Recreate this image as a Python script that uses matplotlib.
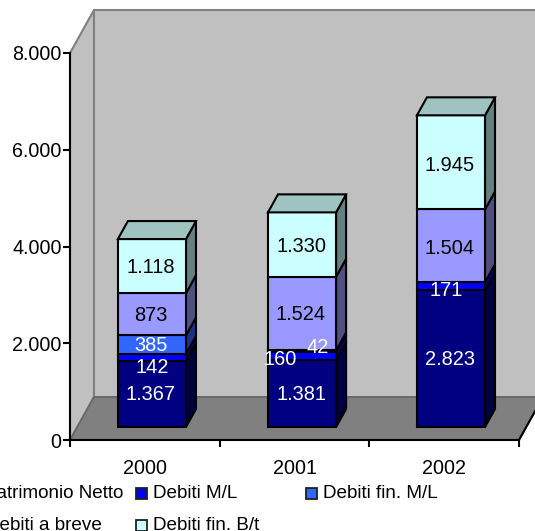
"""Stacked 3D-look column chart drawn on a plain matplotlib axes."""

import matplotlib
matplotlib.use("Agg")
import matplotlib.pyplot as plt
from matplotlib.patches import Rectangle

plt.rcParams["font.family"] = ["Liberation Sans", "DejaVu Sans"]

years = ["2000", "2001", "2002"]
patrimonio_netto = [1367, 1381, 2823]
debiti_ml = [142, 160, 171]
debiti_fin_ml = [385, 42, 0]
debiti_breve = [873, 1524, 1504]
debiti_fin_bt = [1118, 1330, 1945]

series_names = ["Patrimonio Netto", "Debiti M/L", "Debiti fin. M/L", "Debiti a breve", "Debiti fin. B/t"]
series_values = [patrimonio_netto, debiti_ml, debiti_fin_ml, debiti_breve, debiti_fin_bt]

front_colors = ["#000080", "#0000FF", "#3366FF", "#9999FF", "#CCFFFF"]
side_colors = ["#000040", "#000080", "#1A3380", "#505080", "#668080"]
top_colors = ["#000060", "#0000C0", "#264DC0", "#7373C0", "#9FC3C0"]
label_colors = ["white", "white", "white", "black", "black"]

W, H = 535, 531
AX_LEFT, AX_RIGHT, AX_TOP, AX_BOTTOM = 70, 519, 53, 440
PX_X = (AX_RIGHT - AX_LEFT) / 3
PX_Y = (AX_BOTTOM - AX_TOP) / 8000

# depth of the chart box and of the columns, in data units
WALL_DX, WALL_DY = 24 / PX_X, 43 / PX_Y
BAR_DX, BAR_DY = 10 / PX_X, 18 / PX_Y
BAR_BASE = 13 / PX_Y
BAR_LEFT = [0.32, 1.323, 2.318]
BAR_WIDTH = 0.455

# hand-placed labels, offset in pixels from the segment centre
label_shift = {(1, 0): (0, -10), (1, 1): (-22, -3), (2, 1): (16, 4), (1, 2): (-5, -4),
               (3, 2): (-1, -3), (4, 2): (-1, -3), (4, 1): (-1, -2)}


def draw_box(ax):
    """Draw the grey walls and floor behind the columns."""
    x0, x1 = 0, 3
    ax.fill([x0, x0 + WALL_DX, x0 + WALL_DX, x0], [0, WALL_DY, 8000 + WALL_DY, 8000],
            fc="#C0C0C0", ec="#808080", lw=1.5, clip_on=False, zorder=1)
    ax.fill([x0 + WALL_DX, x1 + WALL_DX, x1 + WALL_DX, x0 + WALL_DX],
            [WALL_DY, WALL_DY, 8000 + WALL_DY, 8000 + WALL_DY],
            fc="#C0C0C0", ec="#808080", lw=1.5, clip_on=False, zorder=1)
    ax.fill([x0, x1, x1 + WALL_DX, x0 + WALL_DX], [0, 0, WALL_DY, WALL_DY],
            fc="#808080", ec="#666666", lw=1.2, clip_on=False, zorder=2)
    ax.plot([x1, x1 + WALL_DX], [0, WALL_DY], color="black", lw=1.5, clip_on=False, zorder=2)


def draw_columns(ax):
    """Draw each stack segment as front, side and top faces, with its label."""
    for i, left in enumerate(BAR_LEFT):
        right = left + BAR_WIDTH
        base = BAR_BASE
        for s, values in enumerate(series_values):
            top = base + values[i]
            style = dict(ec="black", lw=1.5, clip_on=False, zorder=3 + s * 0.1)
            ax.fill([right, right + BAR_DX, right + BAR_DX, right],
                    [base, base + BAR_DY, top + BAR_DY, top], fc=side_colors[s], **style)
            ax.fill([left, right, right, left], [base, base, top, top], fc=front_colors[s], **style)
            if values[i] > 0:
                text = f"{values[i]:,}".replace(",", ".")
                shift = label_shift.get((s, i), (-1, -1))
                ax.annotate(text, ((left + right) / 2, (base + top) / 2),
                            xytext=shift, textcoords="offset pixels",
                            ha="center", va="center", fontsize=14.4, color=label_colors[s], zorder=5)
            base = top
        ax.fill([left, right, right + BAR_DX, left + BAR_DX],
                [base, base, base + BAR_DY, base + BAR_DY],
                fc=top_colors[-1], ec="black", lw=1.5, clip_on=False, zorder=4)


def draw_legend(fig):
    """Legend placed by hand, the first column runs off the left edge."""
    fig.add_artist(Rectangle((0, 0), 1, (H - 476) / H, transform=fig.transFigure,
                             fc="white", ec="none", zorder=5))
    slots = [(-33, 493), (136, 493), (306, 493), (-31, 525), (136, 525)]
    for (x, y), name, color in zip(slots, series_names, front_colors):
        fig.add_artist(Rectangle((x / W, (H - y - 5.5) / H), 11 / W, 11 / H, transform=fig.transFigure,
                                 fc=color, ec="#202020", lw=1.3, zorder=6))
        fig.text((x + 17) / W, (H - y) / H, name, fontsize=13.6, va="center", ha="left", zorder=6)


def main():
    fig = plt.figure(figsize=(W / 100, H / 100), dpi=100)
    ax = fig.add_axes([AX_LEFT / W, (H - AX_BOTTOM) / H, (AX_RIGHT - AX_LEFT) / W, (AX_BOTTOM - AX_TOP) / H])
    ax.set_xlim(0, 3)
    ax.set_ylim(0, 8000)
    ax.patch.set_visible(False)

    draw_box(ax)
    draw_columns(ax)

    for side in ["top", "right"]:
        ax.spines[side].set_visible(False)
    for side in ["left", "bottom"]:
        ax.spines[side].set_linewidth(1.5)
        ax.spines[side].set_zorder(6)

    ax.set_yticks([0, 2000, 4000, 6000, 8000])
    ax.set_yticklabels(["0", "2.000", "4.000", "6.000", "8.000"], fontsize=14.2)
    ax.tick_params(axis="y", length=5, width=1.5, pad=1)
    ax.set_xticks([0, 1, 2, 3])
    ax.set_xticklabels([])
    ax.tick_params(axis="x", length=5, width=1.5)
    ax.set_xticks([0.5, 1.5, 2.5], minor=True)
    ax.set_xticklabels(years, minor=True, fontsize=14.2)
    ax.tick_params(axis="x", which="minor", length=0, pad=14)

    draw_legend(fig)
    fig.savefig("out.png", dpi=100)


if __name__ == "__main__":
    main()
